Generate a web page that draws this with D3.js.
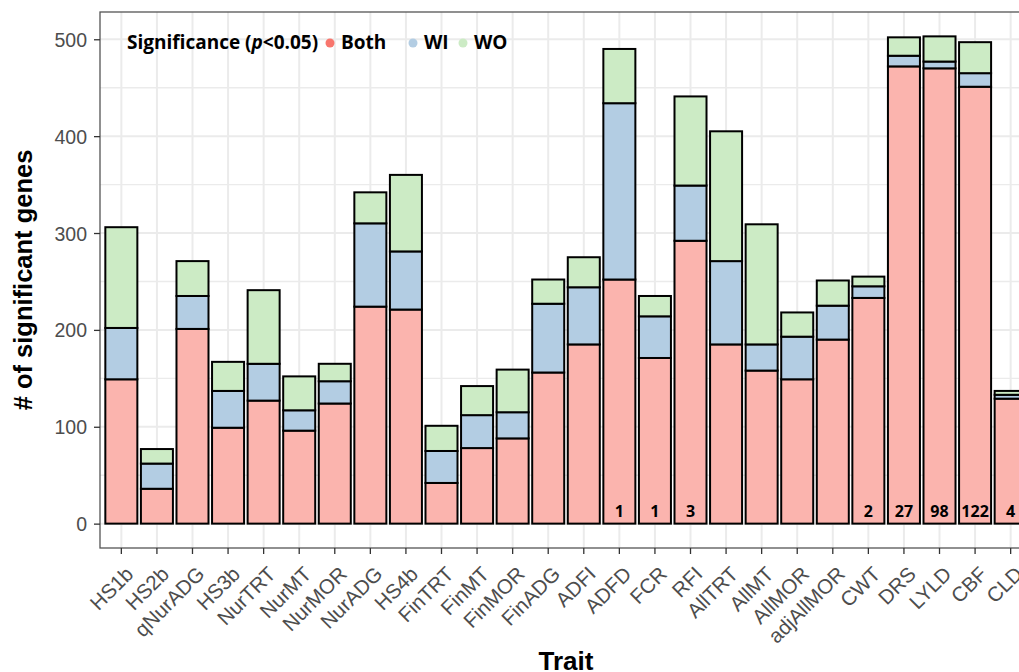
<!DOCTYPE html>
<html>
<head>
<meta charset="utf-8">
<script src="https://cdn.jsdelivr.net/npm/d3@7"></script>
<style>
  body { margin: 0; background: #fff; }
  svg { display: block; }
</style>
</head>
<body>
<svg id="chart" width="1019" height="672"></svg>
<script>
// data
var traits = ["HS1b","HS2b","qNurADG","HS3b","NurTRT","NurMT","NurMOR","NurADG","HS4b",
  "FinTRT","FinMT","FinMOR","FinADG","ADFI","ADFD","FCR","RFI","AllTRT","AllMT","AllMOR",
  "adjAllMOR","CWT","DRS","LYLD","CBF","CLD"];
var both = [149, 36, 201, 99, 127, 96, 124, 224, 221, 42, 78, 88, 156, 185, 252, 171, 292, 185, 158, 149, 190, 233, 472, 470, 451, 129];
var wi   = [ 53, 26,  34, 38,  38, 21,  23,  86,  60, 33, 34, 27,  71,  59, 182,  43,  57,  86,  27,  44,  35,  12,  11,   7,  14,   4];
var wo   = [104, 15,  36, 30,  76, 35,  18,  32,  79, 26, 30, 44,  25,  31,  56,  21,  92, 134, 124,  25,  26,  10,  19,  26,  32,   4];
var counts = {"ADFD": 1, "FCR": 1, "RFI": 3, "CWT": 2, "DRS": 27, "LYLD": 98, "CBF": 122, "CLD": 4};
var groups = ["Both", "WI", "WO"];
var yTicks = [0, 100, 200, 300, 400, 500];

var fills = {Both: "#FBB4AE", WI: "#B3CDE3", WO: "#CCEBC5"};
var keyFills = {Both: "#F8766D", WI: "#B3CDE3", WO: "#CCEBC5"};

var svg = d3.select("#chart");
// panel runs past the right edge of the window, like the cropped original
var panel = {left: 100, right: 1032, top: 12, bottom: 548};

var rows = traits.map(function(t, i) {
  return {trait: t, Both: both[i], WI: wi[i], WO: wo[i]};
});
var totals = rows.map(function(d) { return d.Both + d.WI + d.WO; });
var maxTotal = d3.max(totals);

var x = d3.scaleBand()
  .domain(traits)
  .range([panel.left, panel.right])
  .paddingInner(0.1)
  .paddingOuter(0.15);

var y = d3.scaleLinear()
  .domain([-maxTotal * 0.05, maxTotal * 1.05])
  .range([panel.bottom, panel.top]);

// grid
var grid = svg.append("g");
d3.range(50, maxTotal * 1.05, 100).forEach(function(v) {
  grid.append("line").attr("x1", panel.left).attr("x2", panel.right)
    .attr("y1", y(v)).attr("y2", y(v))
    .attr("stroke", "#EBEBEB").attr("stroke-width", 1.4);
});
yTicks.forEach(function(v) {
  grid.append("line").attr("x1", panel.left).attr("x2", panel.right)
    .attr("y1", y(v)).attr("y2", y(v))
    .attr("stroke", "#EBEBEB").attr("stroke-width", 2);
});
traits.forEach(function(t) {
  var cx = x(t) + x.bandwidth() / 2;
  grid.append("line").attr("x1", cx).attr("x2", cx)
    .attr("y1", panel.top).attr("y2", panel.bottom)
    .attr("stroke", "#EBEBEB").attr("stroke-width", 2);
});

// stacked bars
var stack = d3.stack().keys(groups)(rows);
svg.append("g").selectAll("g")
  .data(stack)
  .enter().append("g")
  .attr("fill", function(d) { return fills[d.key]; })
  .selectAll("rect")
  .data(function(d) { return d; })
  .enter().append("rect")
  .attr("x", function(d) { return x(d.data.trait); })
  .attr("y", function(d) { return y(d[1]); })
  .attr("width", x.bandwidth())
  .attr("height", function(d) { return y(d[0]) - y(d[1]); })
  .attr("stroke", "#000")
  .attr("stroke-width", 2);

// counts at the foot of some bars
svg.append("g").selectAll("text")
  .data(traits.filter(function(t) { return counts[t] !== undefined; }))
  .enter().append("text")
  .attr("x", function(t) { return x(t) + x.bandwidth() / 2; })
  .attr("y", y(0) - 7)
  .attr("text-anchor", "middle")
  .attr("font-family", "Open Sans, Noto Sans, sans-serif")
  .attr("font-weight", "bold")
  .attr("font-size", 16)
  .text(function(t) { return counts[t]; });

// panel border (theme_bw)
svg.append("rect")
  .attr("x", panel.left).attr("y", panel.top)
  .attr("width", panel.right - panel.left).attr("height", panel.bottom - panel.top)
  .attr("fill", "none").attr("stroke", "#555").attr("stroke-width", 1.3);

// axes
var yAxis = svg.append("g")
  .attr("transform", "translate(" + panel.left + ",0)")
  .call(d3.axisLeft(y).tickValues(yTicks).tickSize(6).tickPadding(7));
var xAxis = svg.append("g")
  .attr("transform", "translate(0," + panel.bottom + ")")
  .call(d3.axisBottom(x).tickSize(6).tickPadding(3));
[yAxis, xAxis].forEach(function(a) {
  a.select(".domain").remove();
  a.selectAll(".tick line").attr("stroke", "#333").attr("stroke-width", 1.3);
  a.selectAll(".tick text")
    .attr("fill", "#4D4D4D")
    .attr("font-family", "Liberation Sans, Arial, sans-serif")
    .attr("font-size", 19.5);
});
yAxis.selectAll(".tick text").attr("dy", "0.36em");
xAxis.selectAll(".tick text")
  .attr("font-size", 20.5)
  .attr("text-anchor", "end")
  .attr("dy", "0.55em")
  .attr("transform", "translate(-1,13) rotate(-45)");

// axis titles
svg.append("text")
  .attr("transform", "translate(32," + (panel.top + panel.bottom) / 2 + ") rotate(-90)")
  .attr("text-anchor", "middle")
  .attr("font-family", "Liberation Sans, Arial, sans-serif")
  .attr("font-weight", "bold")
  .attr("font-size", 25.5)
  .text("# of significant genes");
svg.append("text")
  .attr("x", (panel.left + panel.right) / 2)
  .attr("y", 670)
  .attr("text-anchor", "middle")
  .attr("font-family", "Liberation Sans, Arial, sans-serif")
  .attr("font-weight", "bold")
  .attr("font-size", 26)
  .text("Trait");

// legend inside the panel
var legend = svg.append("g")
  .attr("font-family", "Open Sans, Noto Sans, sans-serif")
  .attr("font-weight", "bold")
  .attr("font-size", 19);
var lt = legend.append("text").attr("x", 127).attr("y", 49);
lt.append("tspan").text("Significance (");
lt.append("tspan").attr("font-style", "italic").text("p");
lt.append("tspan").text("<0.05)");
var keyX = {Both: 330, WI: 413, WO: 463};
groups.forEach(function(g) {
  legend.append("circle").attr("cx", keyX[g]).attr("cy", 43).attr("r", 4.5)
    .attr("fill", keyFills[g]);
  legend.append("text").attr("x", keyX[g] + 11).attr("y", 49).text(g);
});
</script>
</body>
</html>
